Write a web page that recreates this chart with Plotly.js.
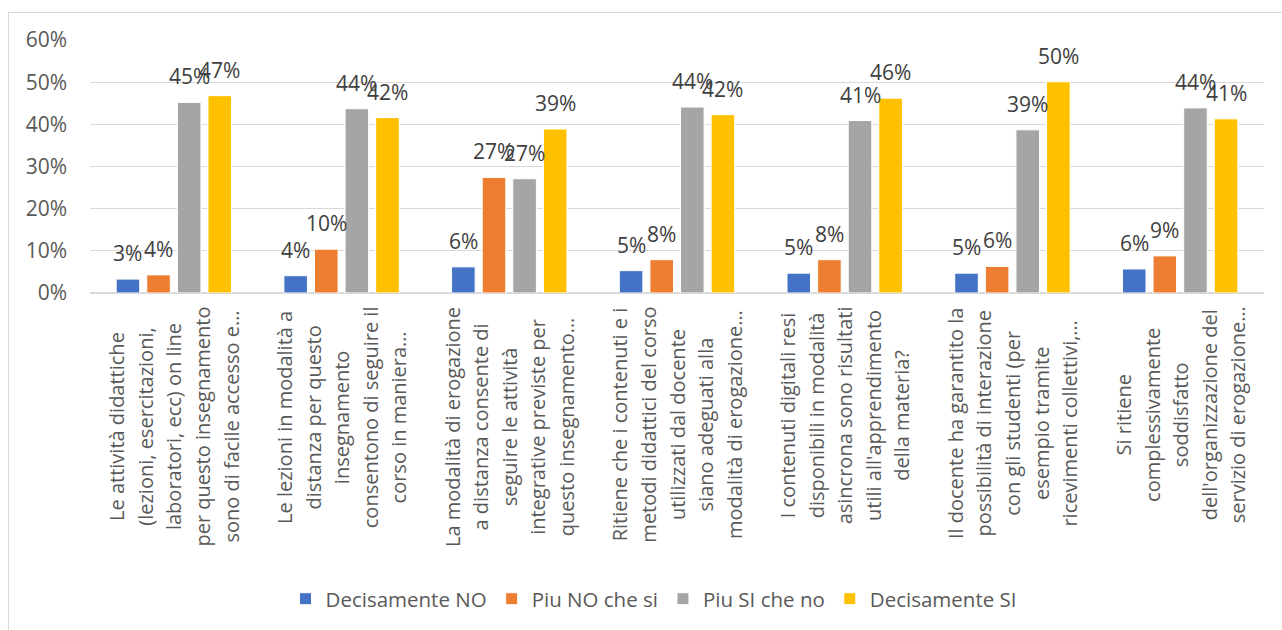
<!DOCTYPE html>
<html>
<head>
<meta charset="utf-8">
<script src="https://cdn.plot.ly/plotly-3.0.1.min.js"></script>
<style>
  html, body { margin: 0; padding: 0; background: #ffffff; }
  #wrap { position: relative; width: 1282px; height: 630px; overflow: hidden; }
  #frame { position: absolute; left: 8px; top: 12px; width: 1400px; height: 800px; border: 1px solid #d9d9d9; box-sizing: border-box; }
  #chart { position: absolute; left: 0; top: 0; width: 1282px; height: 630px; }
</style>
</head>
<body>
<div id="wrap">
  <div id="frame"></div>
  <div id="chart"></div>
</div>
<script>
// ---- data ----
const categories = [
  "Le attività didattiche<br>(lezioni, esercitazioni,<br>laboratori, ecc) on line<br>per questo insegnamento<br>sono di facile accesso e…",
  "Le lezioni in modalità a<br>distanza per questo<br>insegnamento<br>consentono di seguire il<br>corso in maniera…",
  "La modalità di erogazione<br>a distanza consente di<br>seguire le attività<br>integrative previste per<br>questo insegnamento…",
  "Ritiene che i contenuti e i<br>metodi didattici del corso<br>utilizzati dal docente<br>siano adeguati alla<br>modalità di erogazione…",
  "I contenuti digitali resi<br>disponibili in modalità<br>asincrona sono risultati<br>utili all'apprendimento<br>della materia?",
  "Il docente ha garantito la<br>possibilità di interazione<br>con gli studenti (per<br>esempio tramite<br>ricevimenti collettivi,…",
  "Si ritiene<br>complessivamente<br>soddisfatto<br>dell'organizzazione del<br>servizio di erogazione…"
];
const seriesNames = ["Decisamente NO", "Piu NO che si", "Piu SI che no", "Decisamente SI"];
const decisamenteNO = [0.033, 0.041, 0.062, 0.053, 0.047, 0.047, 0.057];
const piuNOcheSi    = [0.043, 0.104, 0.274, 0.079, 0.079, 0.063, 0.088];
const piuSIcheNo    = [0.452, 0.437, 0.271, 0.441, 0.409, 0.387, 0.439];
const decisamenteSI = [0.468, 0.416, 0.389, 0.423, 0.462, 0.501, 0.413];
const yTickValues = [0, 0.1, 0.2, 0.3, 0.4, 0.5, 0.6];

// ---- styles ----
const seriesValues = [decisamenteNO, piuNOcheSi, piuSIcheNo, decisamenteSI];
const colors = ["#4472C4", "#ED7D31", "#A5A5A5", "#FFC000"];
const FONT = "Open Sans, Noto Sans, sans-serif";
const BARGAP = 0.27, GROUPGAP = 0.23;

const traces = seriesValues.map((vals, i) => ({
  type: "bar",
  name: seriesNames[i],
  x: categories,
  y: vals,
  marker: { color: colors[i], line: { color: "#ffffff", width: 1 } },
  hoverinfo: "none"
}));

const annotations = [];
// data labels above bars (positions derived from the grouped-bar layout)
const nS = seriesValues.length;
const slot = (1 - BARGAP) / nS;
seriesValues.forEach((vals, s) => {
  const off = -(1 - BARGAP) / 2 + (s + 0.5) * slot;
  vals.forEach((v, c) => {
    annotations.push({
      xref: "x", yref: "y", x: c + off, y: v,
      text: Math.round(v * 100) + "%",
      showarrow: false, xanchor: "center", yanchor: "bottom", yshift: 10,
      font: { family: FONT, size: 21, color: "#404040" }
    });
  });
});
// category labels (rotated, centered lines)
categories.forEach((cat, c) => {
  annotations.push({
    xref: "x", yref: "paper", x: cat, y: -0.046,
    text: '<span style="font-size:20px">' + cat.split("<br>").join('</span><br><span style="font-size:20px">') + '</span>',
    textangle: -90, align: "center",
    showarrow: false, xanchor: "center", yanchor: "top",
    font: { family: FONT, size: 22, color: "#595959" }
  });
});

const layout = {
  width: 1282, height: 630,
  margin: { l: 90, r: 18, t: 40, b: 336.5 },
  paper_bgcolor: "rgba(0,0,0,0)",
  plot_bgcolor: "rgba(0,0,0,0)",
  barmode: "group",
  bargap: BARGAP,
  bargroupgap: GROUPGAP,
  font: { family: FONT, color: "#595959" },
  xaxis: {
    type: "category",
    showticklabels: false, ticks: "", showgrid: false, zeroline: false, showline: false
  },
  yaxis: {
    range: [0, 0.6],
    tickvals: yTickValues,
    tickformat: ".0%",
    ticks: "",
    ticklabelstandoff: 22,
    showgrid: true, gridcolor: "#d9d9d9", gridwidth: 1.3,
    zeroline: true, zerolinecolor: "#d9d9d9", zerolinewidth: 1.3,
    showline: false,
    tickfont: { family: FONT, size: 21, color: "#595959" }
  },
  showlegend: true,
  legend: {
    orientation: "h",
    x: 0.480, xanchor: "center",
    y: -1.209, yanchor: "middle",
    font: { family: FONT, size: 20.5, color: "#595959" },
    bgcolor: "rgba(0,0,0,0)",
    traceorder: "normal"
  },
  annotations: annotations
};

Plotly.newPlot("chart", traces, layout, { displayModeBar: false, staticPlot: true });
</script>
</body>
</html>
